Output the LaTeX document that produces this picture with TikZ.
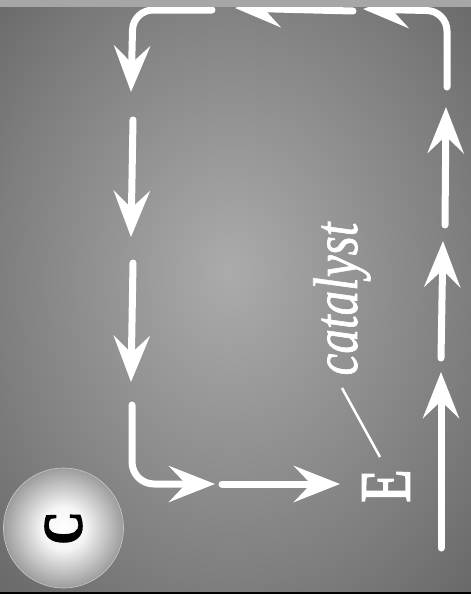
\documentclass[tikz,border=0pt]{standalone}
\usepackage{fontspec}
\newfontfamily\lblfontfat[FakeBold=1.2]{Liberation Serif}
\newfontfamily\efont[FakeBold=2.5]{Liberation Serif}
\newfontfamily\ballfont[FakeBold=3]{Liberation Serif Bold}
\usetikzlibrary{arrows.meta}
\definecolor{bgin}{HTML}{ABABAB}
\definecolor{bgmid}{HTML}{7E7E7E}
\definecolor{bgout}{HTML}{686868}
\definecolor{circout}{HTML}{9C9C9C}
\definecolor{circline}{HTML}{C8C8C8}
\definecolor{band}{HTML}{A6A6A6}
\pgfdeclareradialshading{bgshade}{\pgfpoint{-0.6bp}{2.4bp}}{color(0bp)=(bgin); color(25bp)=(bgmid); color(36bp)=(bgout); color(50bp)=(bgout)}
\pgfdeclareradialshading{ballshade}{\pgfpoint{0bp}{0bp}}{color(0bp)=(white); color(9bp)=(white!96!black); color(25bp)=(circout); color(50bp)=(circout)}
\tikzset{
  flow/.style={draw=white, line width=7pt, line cap=round, line join=round,
    -{Stealth[length=46pt, width=36pt, inset=17pt]}},
  lbl/.style={text=white, inner sep=0pt, rotate=90},
}
\begin{document}
\begin{tikzpicture}[x=1pt, y=-1pt]
\useasboundingbox (0,0) rectangle (471,598);
\shade[shading=bgshade] (0,0) rectangle (471,598);
% coordinates
\coordinate (a0) at (212,10); \coordinate (a1) at (133,10); \coordinate (a2) at (131,92);
\coordinate (b0) at (133,120); \coordinate (b1) at (131,237);
\coordinate (c0) at (133,263); \coordinate (c1) at (131,382);
\coordinate (d0) at (132,405); \coordinate (d1) at (132,484); \coordinate (d2) at (215,484);
\coordinate (e0) at (222,484); \coordinate (e1) at (340,484);
\coordinate (f0) at (441,548); \coordinate (f1) at (441,372);
\coordinate (g0) at (441,358); \coordinate (g1) at (443,241);
\coordinate (h0) at (445,225); \coordinate (h1) at (446,107);
\coordinate (i0) at (447,87); \coordinate (i1) at (447,11); \coordinate (i2) at (363,9);
\coordinate (j0) at (353,11); \coordinate (j1) at (235,8);
% arrows
\draw[flow, rounded corners=20pt] (a0) -- (a1) -- (a2);
\draw[flow] (b0) -- (b1);
\draw[flow] (c0) -- (c1);
\draw[flow, rounded corners=22pt] (d0) -- (d1) -- (d2);
\draw[flow] (e0) -- (e1);
\draw[flow] (f0) -- (f1);
\draw[flow] (g0) -- (g1);
\draw[flow] (h0) -- (h1);
\draw[flow, rounded corners=20pt] (i0) -- (i1) -- (i2);
\draw[flow] (j0) -- (j1);
% labels
\node[lbl, anchor=base, font=\lblfontfat\fontsize{63}{63}\selectfont\itshape] (cat) at (357,299) {\scalebox{0.78}[1]{catalyst}};
\node[lbl, font=\efont\fontsize{72}{72}\selectfont] (E) at (386,486) {\scalebox{0.75}[1]{E}};
\coordinate (l0) at (342,388); \coordinate (l1) at (380,457);
\draw[white, line width=2.5pt] (l0) -- (l1);
% ball
\node[circle, minimum size=120pt, inner sep=0pt, shading=ballshade, draw=circline, line width=0.6pt,
      rotate=90, font=\ballfont\fontsize{55}{55}\selectfont] (C) at (63.5,528) {\scalebox{0.82}[1]{C}};
% frame strips
\fill[band] (0,0) rectangle (471,7);
\fill[black] (0,591.5) rectangle (471,593.5);
\fill[white] (0,593.5) rectangle (471,598);
\end{tikzpicture}
\end{document}
